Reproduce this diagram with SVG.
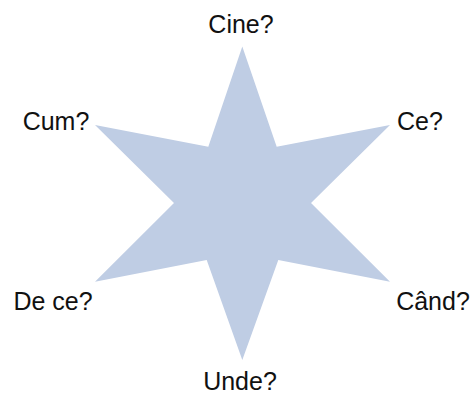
<svg xmlns="http://www.w3.org/2000/svg" width="475" height="396" viewBox="0 0 475 396">
<style>
.lbl{font-family:"Liberation Sans",Arial,sans-serif;font-size:25px;fill:#111;text-anchor:middle}
</style>
<rect width="475" height="396" fill="#fff"/>
<g id="star">
<polygon points="242.3,46.5 276.7,146.7 390,125 311,203 390,281.7 278.3,260 242.3,360 206.7,260 95,281.7 174,203 95,125 208.3,146.7" fill="#bfcde4"/>
</g>
<g id="label-cine"><text class="lbl" x="241" y="33">Cine?</text></g>
<g id="label-ce"><text class="lbl" x="420" y="130">Ce?</text></g>
<g id="label-cand"><text class="lbl" x="433" y="310">Când?</text></g>
<g id="label-unde"><text class="lbl" x="240" y="390">Unde?</text></g>
<g id="label-dece"><text class="lbl" x="53" y="310">De ce?</text></g>
<g id="label-cum"><text class="lbl" x="56" y="130">Cum?</text></g>
</svg>
